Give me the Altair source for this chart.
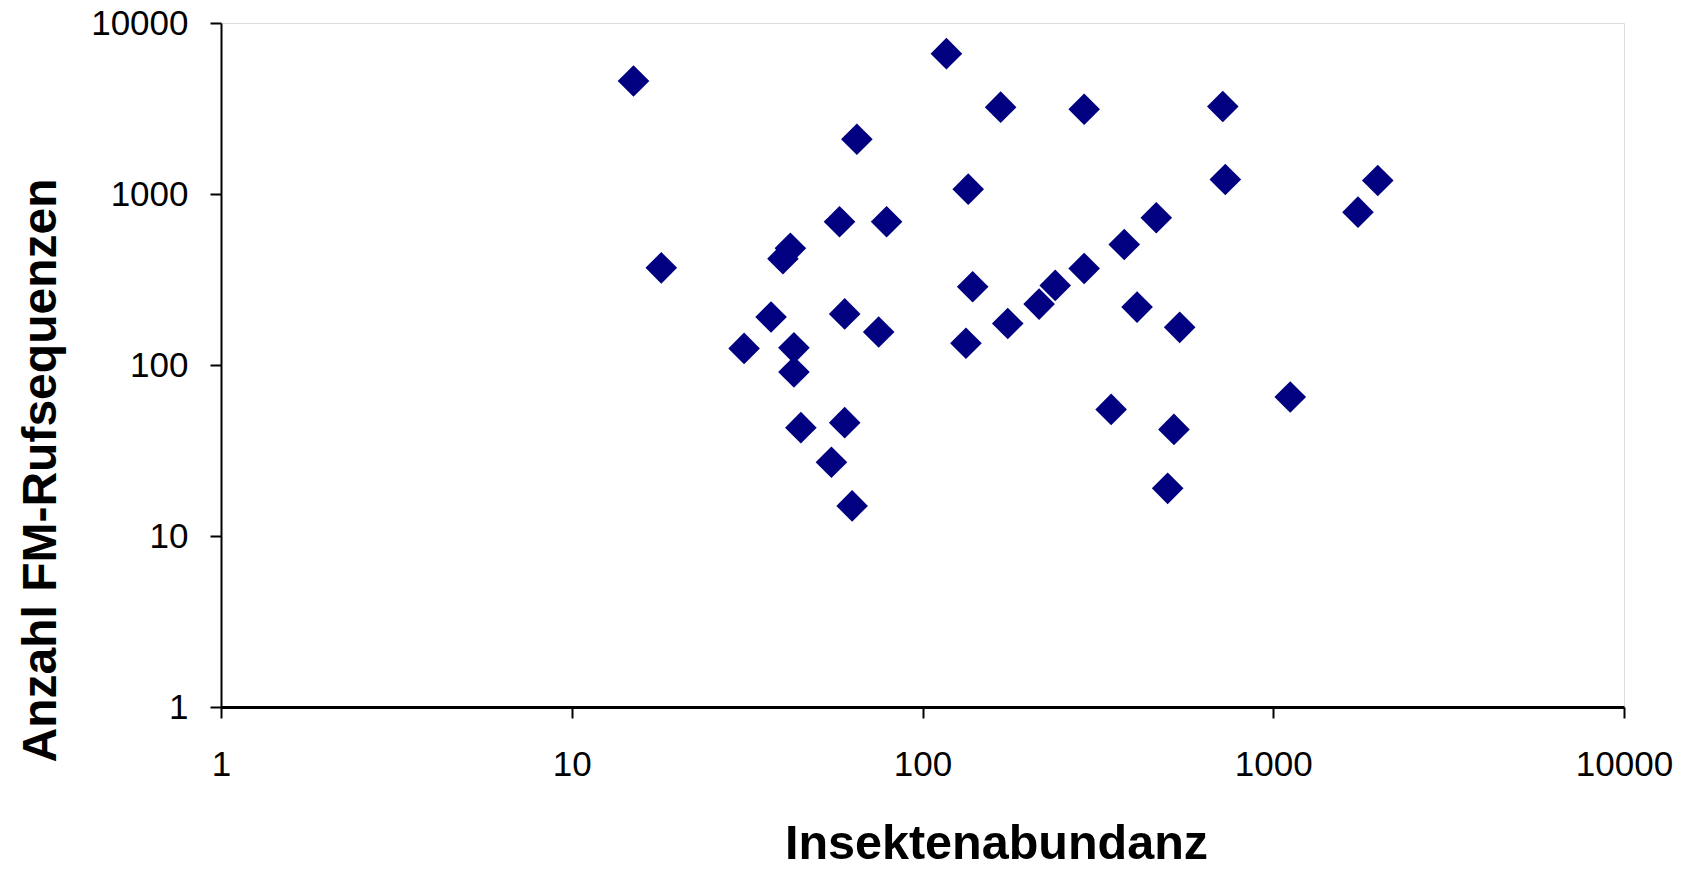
import altair as alt
import pandas as pd

# Insektenabundanz (x) and Anzahl FM-Rufsequenzen (y)
insekten = [15, 18, 65, 117, 167, 135, 58, 79, 42, 40, 37, 31, 43, 43, 60, 75,
            139, 175, 133, 45, 60, 55, 63, 289, 718, 730, 1986, 1744, 464, 376,
            289, 239, 215, 409, 541, 345, 521, 500, 1118]
rufsequenzen = [4580, 370, 2090, 6620, 3220, 1067, 688, 688, 481, 418, 191, 125,
                126, 91, 199, 156, 287, 175, 134, 43, 46, 27, 15, 3131, 3247, 1216,
                1200, 783, 726, 507, 367, 292, 227, 218, 166, 55, 42, 19, 65]

ticks = [1, 10, 100, 1000, 10000]

df = pd.DataFrame({"x": insekten, "y": rufsequenzen})

FONT = "Liberation Sans"

chart = (
    alt.Chart(df)
    .mark_point(shape="diamond", filled=True, size=1000, color="#000080", opacity=1, strokeWidth=0)
    .encode(
        x=alt.X(
            "x:Q",
            scale=alt.Scale(type="log", domain=[1, 10000], nice=False),
            axis=alt.Axis(
                title="Insektenabundanz",
                values=ticks,
                format="d",
                grid=False,
                domainColor="black",
                domainWidth=3,
                tickColor="black",
                tickWidth=2,
                tickSize=11,
                labelFont=FONT,
                labelFontSize=35,
                labelColor="black",
                labelPadding=29,
                labelFlush=False,
                labelOverlap=False,
                labelAlign="center",
                titleFont=FONT,
                titleFontSize=48.5,
                titleFontWeight="bold",
                titleColor="black",
                titleX=775,
                titleY=151,
                titleAlign="center",
                titleBaseline="alphabetic",
            ),
        ),
        y=alt.Y(
            "y:Q",
            scale=alt.Scale(type="log", domain=[1, 10000], nice=False),
            axis=alt.Axis(
                title="Anzahl FM-Rufsequenzen",
                values=ticks,
                format="d",
                grid=False,
                domainColor="black",
                domainWidth=2,
                tickColor="black",
                tickWidth=2,
                tickSize=11,
                labelFont=FONT,
                labelFontSize=35,
                labelColor="black",
                labelPadding=22,
                labelFlush=False,
                labelOverlap=False,
                labelBaseline="middle",
                titleFont=FONT,
                titleFontSize=48,
                titleFontWeight="bold",
                titleColor="black",
                titleAngle=270,
                titleX=-166,
                titleY=447,
                titleAlign="center",
                titleBaseline="alphabetic",
            ),
        ),
    )
    .properties(
        width=1403,
        height=684,
        autosize=alt.AutoSizeParams(type="none"),
        padding={"left": 213, "top": 15, "right": 55, "bottom": 155},
    )
    .configure_view(stroke="#c0c0c0", strokeWidth=2)
    .configure(background="white")
)

chart.save("out.html", embed_options={"renderer": "svg", "actions": False})
